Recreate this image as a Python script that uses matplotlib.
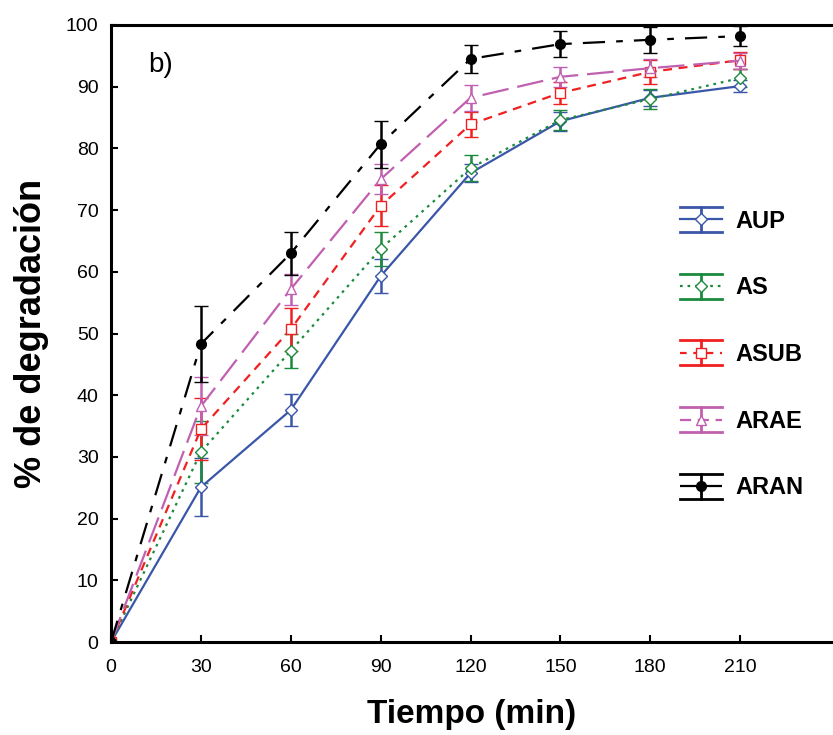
import matplotlib
matplotlib.use("Agg")
import matplotlib.pyplot as plt
from matplotlib.legend_handler import HandlerBase
from matplotlib.lines import Line2D
from matplotlib.container import ErrorbarContainer

time = [0, 30, 60, 90, 120, 150, 180, 210]
labels = ["AUP", "AS", "ASUB", "ARAE", "ARAN"]

aup = [0, 25.1, 37.6, 59.3, 76.0, 84.4, 88.2, 90.1]
aup_err = [0, 4.7, 2.6, 2.8, 1.5, 1.5, 1.3, 1.0]
as_ = [0, 30.8, 47.2, 63.7, 76.8, 84.6, 88.0, 91.4]
as_err = [0, 5.1, 2.8, 2.8, 2.1, 1.6, 1.6, 1.5]
asub = [0, 34.5, 50.7, 70.7, 83.9, 89.0, 92.4, 94.3]
asub_err = [0, 5.0, 3.5, 3.3, 2.0, 1.8, 1.9, 1.4]
arae = [0, 38.2, 57.2, 75.0, 88.2, 91.6, 93.0, 94.2]
arae_err = [0, 4.7, 2.5, 2.4, 2.1, 1.6, 1.5, 1.3]
aran = [0, 48.3, 63.0, 80.7, 94.5, 96.9, 97.6, 98.2]
aran_err = [0, 6.1, 3.5, 3.8, 2.3, 2.1, 2.1, 1.6]

xticks = [0, 30, 60, 90, 120, 150, 180, 210]
yticks = [0, 10, 20, 30, 40, 50, 60, 70, 80, 90, 100]

series = [
    (aup, aup_err, "#3a56a8", "-", "D", "white"),
    (as_, as_err, "#1b8a3c", (0, (1.2, 2.2)), "D", "white"),
    (asub, asub_err, "#f02020", (0, (4, 3)), "s", "white"),
    (arae, arae_err, "#c060b0", (0, (12, 4)), "^", "white"),
    (aran, aran_err, "black", (0, (10, 5, 3, 5)), "o", "black"),
]
legend_ls = {
    "AUP": "-",
    "AS": (0, (1.2, 2.2)),
    "ASUB": (0, (3, 3)),
    "ARAE": (0, (5, 3)),
    "ARAN": (0, (8, 3)),
}


class WideCapHandler(HandlerBase):
    def create_artists(self, legend, orig_handle, xdescent, ydescent,
                       width, height, fontsize, trans):
        line = orig_handle.lines[0]
        col = line.get_color()
        ls = legend_ls.get(orig_handle.get_label(), "-")
        mid = height / 2 - ydescent
        half = height * 0.75
        x0, x1 = -xdescent, -xdescent + width
        xm = (x0 + x1) / 2
        arts = []
        for yy in (mid + half, mid - half):
            arts.append(Line2D([x0, x1], [yy, yy], color=col, lw=2.0,
                               transform=trans))
        arts.append(Line2D([xm, xm], [mid - half, mid + half], color=col,
                           lw=2.0, transform=trans))
        arts.append(Line2D([x0, x1], [mid, mid], color=col,
                           ls=ls, lw=1.6, transform=trans))
        arts.append(Line2D([xm], [mid], color=col, marker=line.get_marker(),
                           ms=line.get_markersize(), mfc=line.get_markerfacecolor(),
                           mec=col, mew=1.0, ls="none", transform=trans))
        return arts


fig = plt.figure(figsize=(8.33, 7.35), dpi=100)
ax = fig.add_axes([0.1333, 0.1265, 0.8667, 0.8395])

for (vals, err, col, ls, mk, mfc), lab in zip(series, labels):
    ms = 7 if mk != "D" else 6
    ax.errorbar(time, vals, yerr=err, color=col, ls=ls, lw=1.6,
                marker=mk, ms=ms, mfc=mfc, mec=col, mew=1.0,
                ecolor=col, elinewidth=1.8, capsize=5, capthick=1.8,
                label=lab)

ax.set_xlim(0, 241)
ax.set_ylim(0, 100)
ax.set_xticks(xticks)
ax.set_yticks(yticks)
tick_font = {"family": ["Liberation Sans Narrow", "Liberation Sans", "DejaVu Sans"], "size": 14}
ax.set_xticklabels([str(t) for t in xticks], fontdict=tick_font)
ax.set_yticklabels([str(t) for t in yticks], fontdict=tick_font)
ax.tick_params(axis="x", direction="in", length=5, width=1.5, pad=12)
ax.tick_params(axis="y", direction="in", length=5, width=1.5, pad=9)
ax.spines["right"].set_visible(False)
for s in ["left", "bottom", "top"]:
    ax.spines[s].set_linewidth(2.2)

ax.set_xlabel("Tiempo (min)", fontsize=24, fontweight="bold",
              family=["Liberation Sans", "DejaVu Sans"], labelpad=17)
ax.set_ylabel("% de degradación", fontsize=26, fontweight="bold",
              family=["Liberation Sans", "DejaVu Sans"], labelpad=12)

ax.text(0.052, 0.935, "b)", transform=ax.transAxes, fontsize=20,
        family=["Liberation Sans", "DejaVu Sans"], ha="left", va="center")

leg = ax.legend(loc="upper left", bbox_to_anchor=(0.758, 0.735), frameon=False,
                prop={"family": ["Liberation Sans", "DejaVu Sans"], "weight": "bold", "size": 17},
                labelspacing=1.85, handlelength=1.8, handletextpad=0.55,
                handler_map={ErrorbarContainer: WideCapHandler()})

fig.savefig("out.png", dpi=100)
